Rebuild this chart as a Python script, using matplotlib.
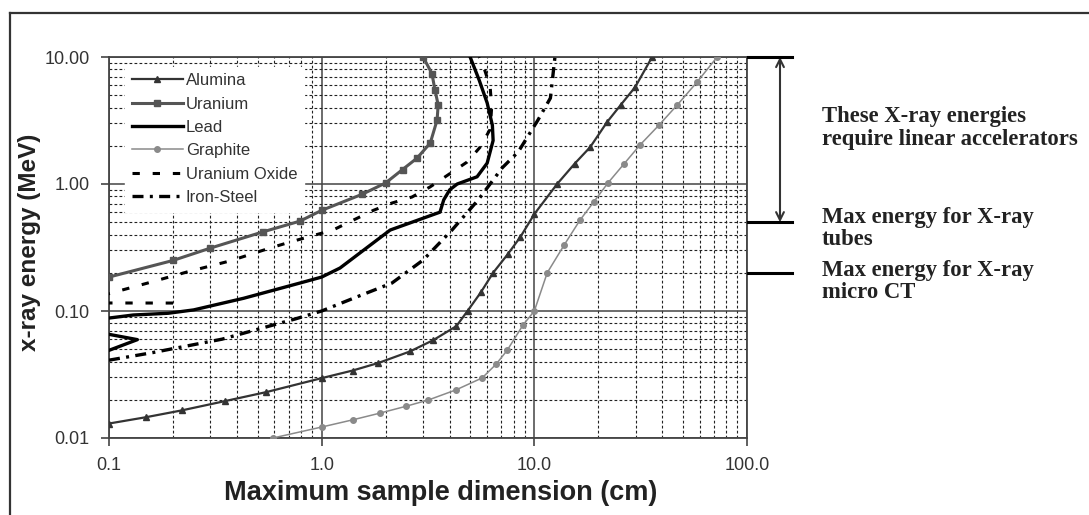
import matplotlib
matplotlib.use("Agg")
import matplotlib.pyplot as plt
from matplotlib.lines import Line2D
import matplotlib.transforms as mtrans

# ---------------- data (cm, MeV) ----------------
alumina_x = [0.1, 0.15, 0.22, 0.35, 0.55, 1.0, 1.4, 1.85, 2.6, 3.35, 4.3, 4.85, 5.6, 6.4, 7.5, 8.6, 10.0, 12.8, 15.5, 18.3, 22.0, 25.5, 29.8, 35.8]
alumina_e = [0.013, 0.0146, 0.0165, 0.0195, 0.023, 0.0296, 0.034, 0.039, 0.048, 0.059, 0.076, 0.1, 0.14, 0.2, 0.28, 0.383, 0.58, 1.0, 1.45, 1.95, 3.08, 4.2, 5.8, 10.0]

uranium_x = [0.1, 0.2, 0.3, 0.53, 0.79, 1.0, 1.55, 2.0, 2.4, 2.81, 3.24, 3.49, 3.53, 3.41, 3.3, 3.0]
uranium_e = [0.185, 0.25, 0.313, 0.42, 0.51, 0.62, 0.83, 1.02, 1.3, 1.6, 2.1, 3.19, 4.2, 5.5, 7.4, 10.0]

lead_x = [0.1, 0.13, 0.19, 0.25, 0.43, 0.79, 1.0, 1.22, 2.1, 3.6, 3.75, 4.0, 4.34, 5.38, 6.0, 6.4, 6.35, 6.0, 5.5, 4.99]
lead_e = [0.088, 0.093, 0.096, 0.102, 0.126, 0.166, 0.185, 0.218, 0.434, 0.6, 0.75, 0.9, 1.0, 1.14, 1.46, 2.2, 2.9, 4.35, 6.6, 10.0]
lead_edge_x = [0.1, 0.136, 0.1]
lead_edge_e = [0.0655, 0.0595, 0.049]

graphite_x = [0.59, 1.0, 1.4, 1.88, 2.5, 3.17, 4.3, 5.68, 6.6, 7.45, 8.85, 10.0, 11.5, 13.8, 16.4, 19.0, 22.2, 26.5, 31.4, 38.5, 47.0, 58.0, 72.4]
graphite_e = [0.01, 0.0122, 0.0139, 0.0157, 0.0178, 0.0199, 0.024, 0.0297, 0.038, 0.049, 0.0776, 0.1, 0.2, 0.33, 0.52, 0.72, 1.02, 1.45, 2.03, 2.9, 4.19, 6.3, 10.0]

uo_x = [0.2, 0.08, 0.1, 0.152, 0.233, 0.371, 0.571, 0.71, 1.13, 1.75, 2.14, 2.66, 3.23, 3.93, 4.83, 5.56, 6.2, 6.3, 6.2, 5.74, 5.5]
uo_e = [0.1155, 0.1157, 0.137, 0.166, 0.203, 0.248, 0.313, 0.349, 0.434, 0.62, 0.708, 0.79, 0.947, 1.18, 1.49, 1.95, 2.7, 4.0, 5.8, 8.65, 10.0]

iron_x = [0.1, 0.16, 0.34, 0.55, 0.75, 1.0, 1.41, 2.14, 3.0, 4.1, 5.44, 7.06, 8.4, 10.4, 11.9, 12.5]
iron_e = [0.041, 0.047, 0.06, 0.075, 0.0865, 0.1, 0.126, 0.166, 0.252, 0.434, 0.748, 1.34, 1.79, 3.19, 4.75, 10.0]

series_names = ["Alumina", "Uranium", "Lead", "Graphite", "Uranium Oxide", "Iron-Steel"]

x_ticks = [0.1, 1.0, 10.0, 100.0]
x_tick_labels = ["0.1", "1.0", "10.0", "100.0"]
y_ticks = [0.01, 0.1, 1.0, 10.0]
y_tick_labels = ["0.01", "0.10", "1.00", "10.00"]

linac_range = [10.0, 0.5]     # MeV, arrow span
tube_max = 0.5                # MeV
microct_max = 0.2             # MeV
note_lines = [
    ["These X-ray energies", "require linear accelerators"],
    ["Max energy for X-ray", "tubes"],
    ["Max energy for X-ray", "micro CT"],
]

# ---------------- figure ----------------
W, H = 1089, 515
fig = plt.figure(figsize=(W / 100, H / 100), dpi=100)
fig.patch.set_facecolor("white")

ax = fig.add_axes([109 / W, 1 - 438 / H, (747 - 109) / W, (438 - 57) / H])
ax.set_xscale("log")
ax.set_yscale("log")
ax.set_xlim(0.1, 100)
ax.set_ylim(0.01, 10)

# grid
ax.grid(which="major", color="#444444", linestyle="-", linewidth=1.1)
ax.grid(which="minor", color="#222222", linestyle=(0, (2.5, 2.0)), linewidth=0.8)
ax.set_axisbelow(True)

ax.plot(alumina_x, alumina_e, color="#333333", lw=1.6, marker="^", ms=4.5,
        label=series_names[0], zorder=5)
ax.plot(uranium_x, uranium_e, color="#555555", lw=2.2, marker="s", ms=4,
        label=series_names[1], zorder=5)
ax.plot(lead_x, lead_e, color="black", lw=2.4, label=series_names[2], zorder=5)
ax.plot(lead_edge_x, lead_edge_e, color="black", lw=2.4, zorder=5)
ax.plot(graphite_x, graphite_e, color="#8a8a8a", lw=1.1, marker="o", ms=4,
        label=series_names[3], zorder=5)
ax.plot(uo_x, uo_e, color="black", lw=2.2, linestyle=(0, (2.4, 4.2)),
        label=series_names[4], zorder=5)
ax.plot(iron_x, iron_e, color="black", lw=2.4, linestyle=(0, (3.3, 1.9, 0.9, 1.9)),
        label=series_names[5], zorder=5)

for s in ax.spines.values():
    s.set_color("#444444")
    s.set_linewidth(1.3)

ax.set_xticks(x_ticks)
ax.set_xticklabels(x_tick_labels)
ax.set_yticks(y_ticks)
ax.set_yticklabels(y_tick_labels)
ax.tick_params(which="major", direction="out", length=6, width=1.2, color="#444444",
               labelsize=13, labelcolor="#333333")
ax.tick_params(axis="y", pad=8)
ax.tick_params(axis="x", pad=8)
ax.tick_params(which="minor", length=0)
for lab in ax.get_xticklabels() + ax.get_yticklabels():
    lab.set_fontfamily("Liberation Sans")

ax.set_xlabel("Maximum sample dimension (cm)", fontsize=19.5, fontweight="bold",
              fontfamily="Liberation Sans", color="#222222")
ax.xaxis.set_label_coords(0.52, -0.11)
ax.set_ylabel("x-ray energy (MeV)", fontsize=17.5, fontweight="bold",
              fontfamily="Liberation Sans", color="#222222")
ax.yaxis.set_label_coords(-0.107, 0.514)

leg = ax.legend(loc="upper left", bbox_to_anchor=(0.025, 0.975), borderaxespad=0.0,
                frameon=True, fancybox=False, edgecolor="white", facecolor="white",
                framealpha=1.0, prop={"family": "Liberation Sans", "size": 12},
                handlelength=3.1, handletextpad=0.15, labelspacing=0.5,
                borderpad=0.4)
leg.set_zorder(6)
for t in leg.get_texts():
    t.set_color("#333333")

# right-hand annotations (x in axes fraction, y in data)
trans = mtrans.blended_transform_factory(ax.transAxes, ax.transData)
bar_x0, bar_x1 = (748 - 109) / 638, (792 - 109) / 638
for yv in [linac_range[0], tube_max, microct_max]:
    ax.plot([bar_x0, bar_x1], [yv, yv], transform=trans, color="black", lw=2.2,
            clip_on=False, zorder=7)
arrow_x = (780 - 109) / 638
ax.annotate("", xy=(arrow_x, linac_range[1]), xytext=(arrow_x, linac_range[0]),
            xycoords=trans, textcoords=trans,
            arrowprops=dict(arrowstyle="<->", color="#333333", lw=1.5,
                            shrinkA=0, shrinkB=0, mutation_scale=14),
            annotation_clip=False)

baselines = [[122, 145], [223, 245], [276, 298]]
for lines, bls in zip(note_lines, baselines):
    for txt, b in zip(lines, bls):
        fig.text(822 / W, 1 - b / H, txt, fontsize=16.3, fontweight="bold",
                 fontfamily="Liberation Serif", color="#222222", va="baseline", ha="left")

# outer frame (top and left edges)
fig.add_artist(Line2D([10 / W, 1.0], [1 - 13 / H, 1 - 13 / H], transform=fig.transFigure,
                      color="#333333", lw=1.6))
fig.add_artist(Line2D([10 / W, 10 / W], [1 - 13 / H, 0.0], transform=fig.transFigure,
                      color="#333333", lw=1.6))

fig.savefig("out.png", dpi=100, facecolor="white")
